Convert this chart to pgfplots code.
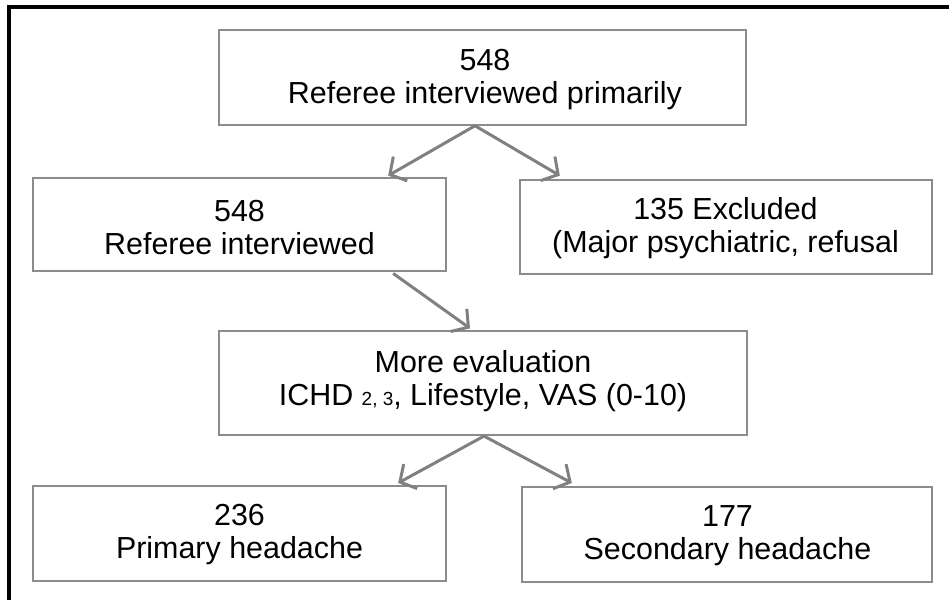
\documentclass[border=0pt]{standalone}
\usepackage{pgfplots}
\pgfplotsset{compat=1.18}
\usepackage{fontspec}
\setmainfont{Liberation Sans}
\usetikzlibrary{arrows.meta}
\definecolor{boxgray}{HTML}{8C8C8C}
\definecolor{arrowgray}{HTML}{808080}
\tikzset{
  box/.style={draw=boxgray, line width=2pt, mark=none},
  arr/.style={draw=arrowgray, line width=3pt, mark=none, -{Straight Barb[length=12pt,width=28pt]}},
  lbl/.style={align=center, font=\fontsize{30.5}{33}\selectfont, text=black, inner sep=0pt},
}
\begin{document}
\begin{tikzpicture}
\begin{axis}[
  scale only axis, width=951pt, height=601pt,
  xmin=0, xmax=951, ymin=0, ymax=601, y dir=reverse,
  hide axis, clip=false,
]
\path (rel axis cs:0,0) rectangle (rel axis cs:1,1);
% outer frame (top and left)
\addplot[black, line width=4pt, mark=none] coordinates {(9,601) (9,7) (951,7)};
% boxes
\addplot[box] coordinates {(219,30) (748,30) (748,125) (219,125)} -- cycle;
\addplot[box] coordinates {(33,178) (447,178) (447,272) (33,272)} -- cycle;
\addplot[box] coordinates {(521,180) (934,180) (934,275) (521,275)} -- cycle;
\addplot[box] coordinates {(219,332) (749,332) (749,436) (219,436)} -- cycle;
\addplot[box] coordinates {(33,487) (447,487) (447,582) (33,582)} -- cycle;
\addplot[box] coordinates {(523,488) (934,488) (934,583) (523,583)} -- cycle;
% arrows
\addplot[arr] coordinates {(476,126) (389,176)};
\addplot[arr] coordinates {(476,126) (561,176)};
\addplot[arr] coordinates {(394,274) (471,329)};
\addplot[arr] coordinates {(485,437) (399,484)};
\addplot[arr] coordinates {(485,437) (573,484)};
% labels
\node[lbl] at (axis cs:486,80) {548\\Referee interviewed primarily};
\node[lbl] at (axis cs:240,228) {548\\Referee interviewed};
\node[lbl] at (axis cs:727,229) {135 Excluded\\(Major psychiatric, refusal};
\node[lbl] at (axis cs:484,382) {More evaluation\\ICHD {\fontsize{19}{19}\selectfont 2, 3}, Lifestyle, VAS (0-10)};
\node[lbl] at (axis cs:240,536) {236\\Primary headache};
\node[lbl] at (axis cs:729,537) {177\\Secondary headache};
\end{axis}
\end{tikzpicture}
\end{document}
